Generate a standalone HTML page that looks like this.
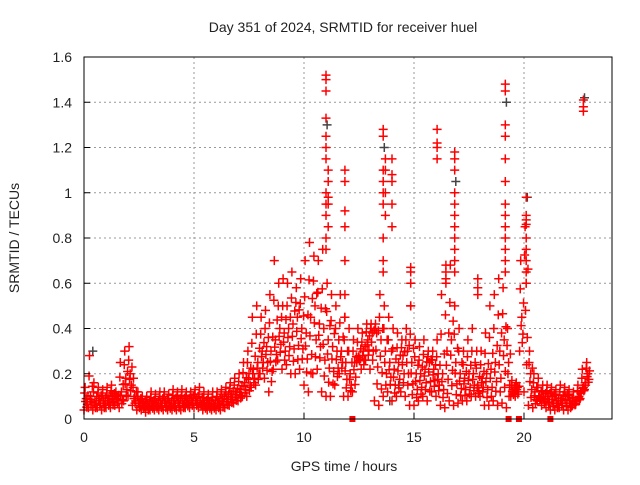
<!DOCTYPE html>
<html><head><meta charset="utf-8"><style>
body{margin:0;background:#fff}
svg text{font-family:"Liberation Sans",sans-serif;font-size:14px;fill:#222}
</style></head><body>
<svg id="chart" width="640" height="480" xmlns="http://www.w3.org/2000/svg">
<rect width="640" height="480" fill="#fff"/>
<g id="grid"></g>
<g id="marks"></g>
<rect x="84" y="57" width="528" height="362" fill="none" stroke="#000" stroke-width="1"/>
<g id="axes"></g>
<text x="343" y="32" text-anchor="middle">Day 351 of 2024, SRMTID for receiver huel</text>
<text x="344" y="471" text-anchor="middle">GPS time / hours</text>
<text transform="translate(19,238) rotate(-90)" text-anchor="middle">SRMTID / TECUs</text>
</svg>
<script>
const xTicks=[0,5,10,15,20];
const yTicks=[0,0.2,0.4,0.6,0.8,1,1.2,1.4,1.6];
const yTickLabels=["0","0.2","0.4","0.6","0.8","1","1.2","1.4","1.6"];
const tStart=0, tStep=0.2;
const lo=[0.04,0.05,0.04,0.05,0.04,0.05,0.05,0.06,0.05,0.08,0.1,0.06,0.04,0.04,0.03,0.04,0.04,0.04,0.04,0.04,0.04,0.04,0.04,0.05,0.05,0.05,0.05,0.04,0.04,0.04,0.04,0.04,0.05,0.06,0.07,0.08,0.1,0.1,0.14,0.15,0.2,0.18,0.12,0.22,0.26,0.22,0.24,0.2,0.2,0.22,0.15,0.12,0.2,0.22,0.12,0.1,0.1,0.15,0.2,0.1,0.1,0.12,0.25,0.22,0.26,0.22,0.08,0.06,0.1,0.12,0.08,0.1,0.12,0.1,0.06,0.06,0.08,0.1,0.08,0.12,0.1,0.06,0.05,0.08,0.06,0.07,0.08,0.08,0.1,0.1,0.1,0.06,0.06,0.08,0.06,0.07,0.05,0.1,0.1,0.3,0.12,0.06,0.05,0.08,0.06,0.05,0.04,0.04,0.05,0.04,0.04,0.06,0.08,0.12,0.15];
const mid=[0.09,0.1,0.08,0.09,0.08,0.09,0.1,0.1,0.12,0.18,0.2,0.1,0.08,0.07,0.07,0.07,0.07,0.08,0.08,0.07,0.08,0.08,0.08,0.08,0.09,0.09,0.08,0.07,0.07,0.07,0.08,0.09,0.1,0.11,0.12,0.13,0.16,0.2,0.22,0.25,0.3,0.32,0.3,0.35,0.4,0.38,0.4,0.42,0.45,0.4,0.38,0.45,0.5,0.42,0.4,0.35,0.32,0.3,0.3,0.25,0.2,0.25,0.28,0.3,0.35,0.38,0.38,0.35,0.3,0.25,0.22,0.25,0.28,0.3,0.25,0.2,0.2,0.22,0.25,0.22,0.2,0.2,0.3,0.35,0.25,0.2,0.18,0.2,0.2,0.15,0.18,0.2,0.22,0.25,0.3,0.35,0.25,0.13,0.14,0.45,0.6,0.2,0.12,0.1,0.1,0.1,0.1,0.08,0.09,0.1,0.08,0.07,0.1,0.14,0.2];
const hi=[0.14,0.28,0.16,0.14,0.13,0.14,0.15,0.12,0.25,0.3,0.32,0.18,0.12,0.1,0.1,0.12,0.11,0.12,0.12,0.11,0.13,0.12,0.13,0.12,0.12,0.13,0.14,0.12,0.11,0.12,0.12,0.13,0.14,0.16,0.18,0.2,0.25,0.3,0.45,0.5,0.45,0.48,0.55,0.7,0.6,0.62,0.6,0.65,0.58,0.62,0.7,0.78,0.72,0.7,0.75,0.6,0.55,0.5,0.55,0.45,0.4,0.35,0.4,0.38,0.42,0.42,0.42,0.55,0.5,0.45,0.4,0.38,0.35,0.4,0.5,0.35,0.32,0.35,0.3,0.3,0.35,0.55,0.62,0.68,0.5,0.4,0.3,0.35,0.4,0.3,0.3,0.38,0.5,0.55,0.62,0.58,0.4,0.17,0.16,0.7,0.85,0.3,0.2,0.18,0.15,0.15,0.14,0.13,0.15,0.14,0.13,0.12,0.15,0.22,0.25];
const spikeT=[11.0,11.1,11.86,13.6,13.7,14.0,14.85,16.05,16.45,16.85,17.9,19.15,20.1,22.7];
const spikeV=[[1.52,1.5,1.45,1.33,1.25,1.2,1.15,1.0,0.95,0.9,0.8,0.75],[1.1,1.05,0.98,0.95,0.85],[1.1,1.05,0.92,0.85,0.7,0.55,0.45],[1.28,1.25,1.1,1.05,1.0,0.95,0.8,0.7,0.65],[1.15,1.1,1.0,0.9],[1.15,1.08,1.05,0.95,0.85],[0.67,0.65,0.6,0.5],[1.28,1.22,1.2,1.15],[0.68,0.65,0.6],[1.18,1.15,1.1,1.0,0.95,0.9,0.85,0.8,0.75,0.7,0.65],[0.62,0.58,0.55],[1.48,1.45,1.3,1.25,1.15,1.05,0.95,0.9,0.85,0.8,0.75,0.7,0.65],[0.98,0.9,0.88,0.86,0.8,0.75,0.7,0.65,0.6],[1.41,1.38,1.36]];
const grayT=[0.4,11.05,13.65,16.9,19.2,20.15,22.75,13.9,14.3];
const grayV=[0.3,1.3,1.2,1.05,1.4,0.98,1.42,0.08,0.15];
const flagT=[12.2,19.3,19.77,21.2];

const NS="http://www.w3.org/2000/svg";
const X=t=>84+t*22, Y=v=>419-v*226.25;
const grid=document.getElementById('grid'),axes=document.getElementById('axes'),marks=document.getElementById('marks');
function mk(tag,attrs,parent){const e=document.createElementNS(NS,tag);for(const k in attrs)e.setAttribute(k,attrs[k]);parent.appendChild(e);return e;}
xTicks.forEach(t=>{
  if(t>0){const g=mk('line',{x1:X(t),x2:X(t),y1:57,y2:419,stroke:'#999','stroke-dasharray':'2,3'},grid);
  
  }
  const tk=mk('line',{x1:X(t),x2:X(t),y1:419,y2:413,stroke:'#000'},axes);
  
  
  const tx=mk('text',{x:X(t),y:442,'text-anchor':'middle'},axes);tx.textContent=t;
  
  
});
yTicks.forEach((v,i)=>{
  if(v>0&&v<1.6){const g=mk('line',{x1:84,x2:612,y1:Y(v),y2:Y(v),stroke:'#999','stroke-dasharray':'2,3'},grid);
  
  }
  const tk=mk('line',{x1:84,x2:90,y1:Y(v),y2:Y(v),stroke:'#000'},axes);
  
  
  const tx=mk('text',{x:72,y:Y(v)+5,'text-anchor':'end'},axes);tx.textContent=yTickLabels[i];
  
  
});
function cross(t,v,col){
  const x=X(t),y=Y(v);
  const p=mk('path',{d:`M${x-4.5},${y}h9M${x},${y-4.5}v9`,stroke:col,'stroke-width':1.5,fill:'none'},marks);
  
  
}
grayT.forEach((t,i)=>cross(t,grayV[i],'#444'));
const n=Math.min(lo.length,mid.length,hi.length);
for(let i=0;i<n;i++){
  const t=tStart+i*tStep;
  cross(t,lo[i],'#f00');
  cross(t+0.1,mid[i],'#f00');
  cross(t+0.05,hi[i],'#f00');
  cross(t+0.15,(lo[i]+mid[i])/2,'#f00');
  cross(t+0.03,(mid[i]+hi[i])/2,'#f00');
  cross(t+0.12,(lo[i]*3+mid[i])/4,'#f00');
  cross(t+0.18,(mid[i]*3+hi[i])/4,'#f00');
  cross(t+0.07,(lo[i]+mid[i]*3)/4,'#f00');
}
spikeT.forEach((t,i)=>spikeV[i].forEach(v=>cross(t,v,'#f00')));
flagT.forEach(t=>{const r=mk('rect',{x:X(t)-3,y:416,width:6,height:6,fill:'#f00'},marks);
  
  });
</script>
</body></html>
